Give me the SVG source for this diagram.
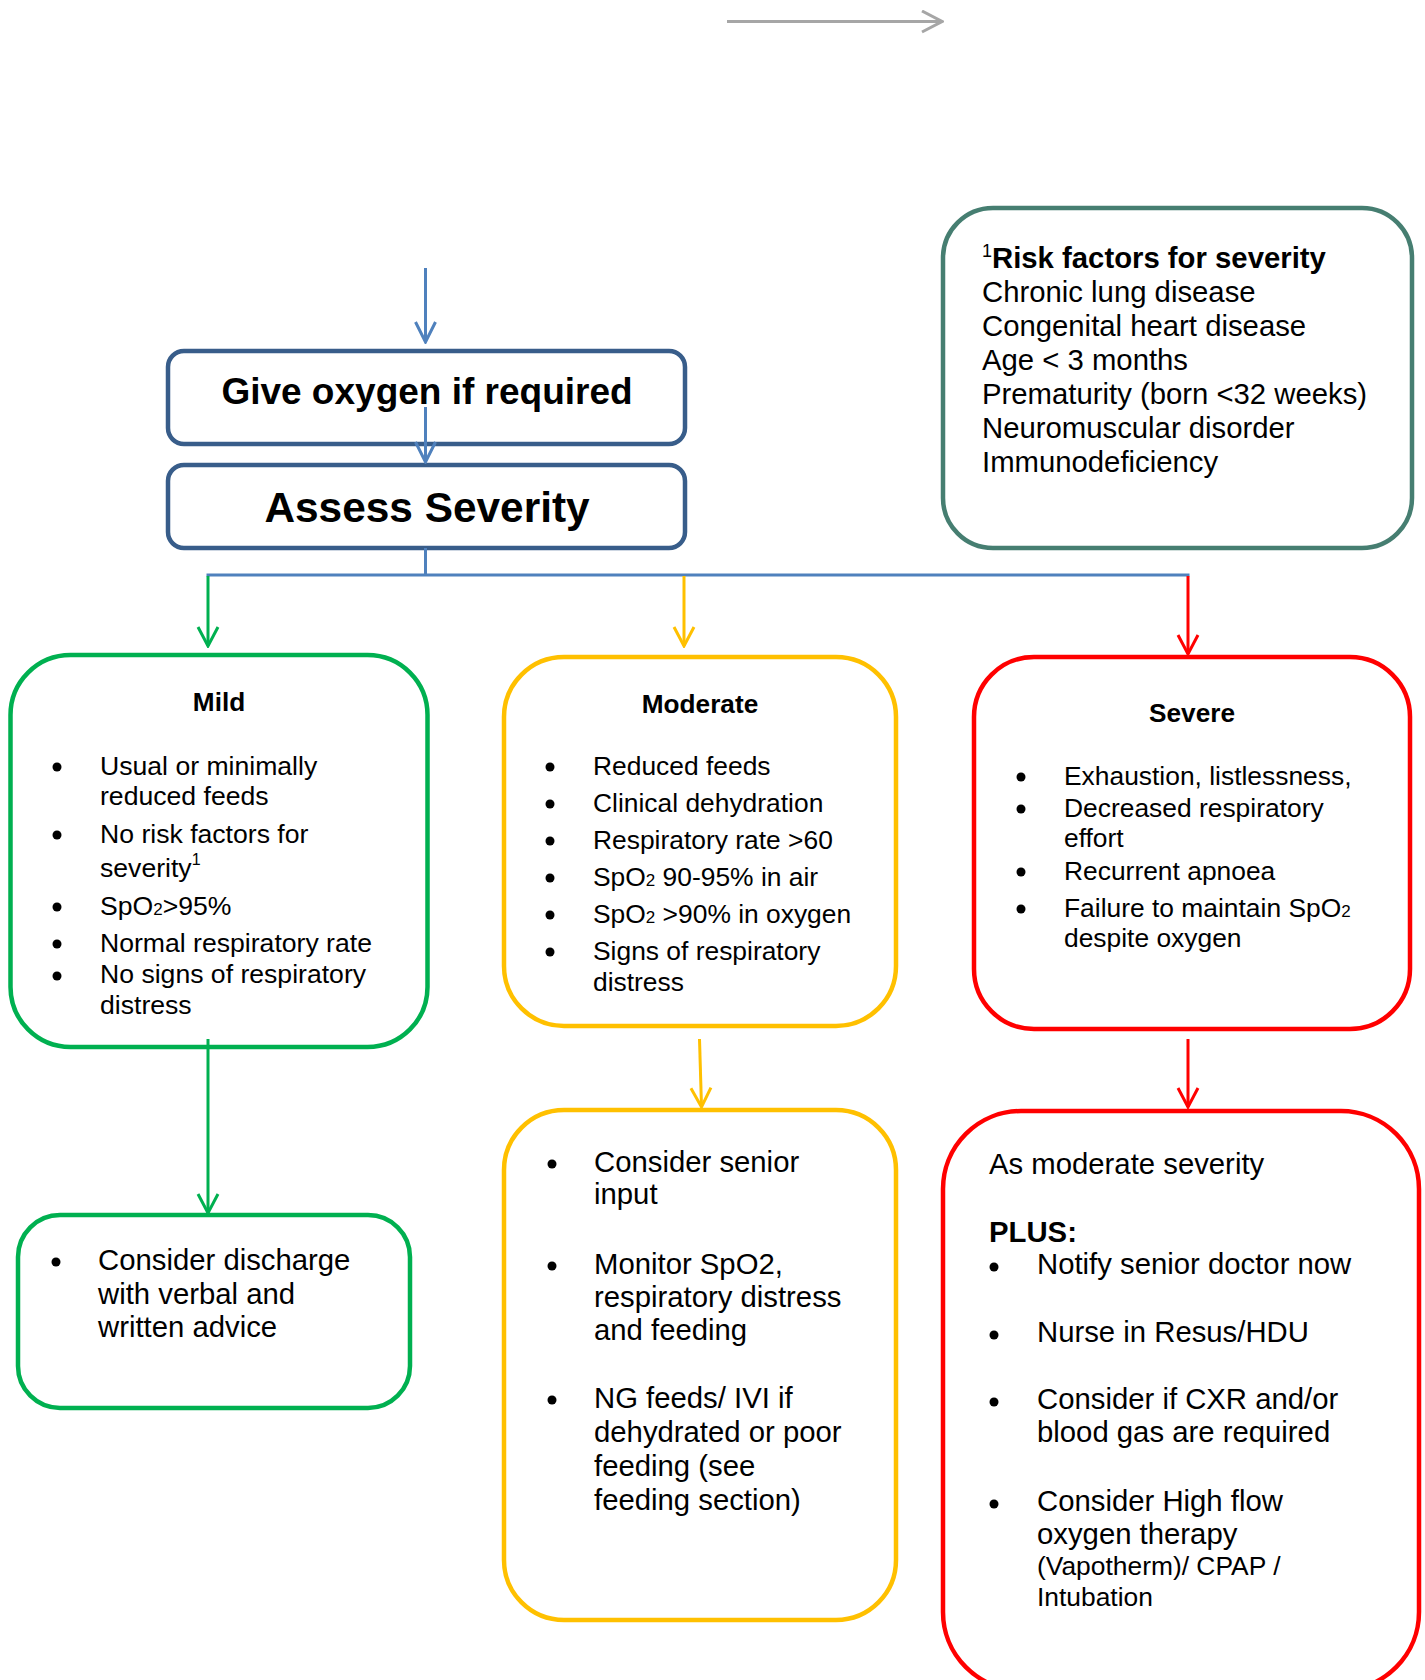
<svg xmlns="http://www.w3.org/2000/svg" width="1425" height="1680" viewBox="0 0 1425 1680">
<style>
  text { font-family: "Liberation Sans", Arial, Helvetica, sans-serif; fill: #000; }
  .s26 { font-size: 26.4px; }
  .s29 { font-size: 29.3px; }
  .ttl { font-size: 26.2px; font-weight: bold; text-anchor: middle; }
  .b { font-weight: bold; }
  .sub { font-size: 17px; }
  .box { fill: #fff; stroke-width: 4.5; }
  .blueBox { stroke: #385D8A; }
  .teal { stroke: #467E71; }
  .green { stroke: #00B050; }
  .yellow { stroke: #FFC000; }
  .red { stroke: #FF0000; }
  .bul { fill: #000; }
  .conn { fill: none; stroke-width: 3; }
</style>
<defs>
  <marker id="aGray" viewBox="-23 -12 25 24" refX="0" refY="0" markerWidth="25" markerHeight="24" markerUnits="userSpaceOnUse" orient="auto">
    <path d="M-20,-10.5 L0,0 L-20,10.5" fill="none" stroke="#A6A6A6" stroke-width="3"/>
  </marker>
  <marker id="aBlue" viewBox="-23 -12 25 24" refX="0" refY="0" markerWidth="25" markerHeight="24" markerUnits="userSpaceOnUse" orient="auto">
    <path d="M-20,-10 L0,0 L-20,10" fill="none" stroke="#4F81BD" stroke-width="3"/>
  </marker>
  <marker id="aGreen" viewBox="-23 -12 25 24" refX="0" refY="0" markerWidth="25" markerHeight="24" markerUnits="userSpaceOnUse" orient="auto">
    <path d="M-19,-10 L0,0 L-19,10" fill="none" stroke="#00B050" stroke-width="3"/>
  </marker>
  <marker id="aYellow" viewBox="-23 -12 25 24" refX="0" refY="0" markerWidth="25" markerHeight="24" markerUnits="userSpaceOnUse" orient="auto">
    <path d="M-19,-10 L0,0 L-19,10" fill="none" stroke="#FFC000" stroke-width="3"/>
  </marker>
  <marker id="aRed" viewBox="-23 -12 25 24" refX="0" refY="0" markerWidth="25" markerHeight="24" markerUnits="userSpaceOnUse" orient="auto">
    <path d="M-19,-10 L0,0 L-19,10" fill="none" stroke="#FF0000" stroke-width="3"/>
  </marker>
</defs>

<rect width="1425" height="1680" fill="#fff"/>

<!-- Nodes -->
<g id="give-oxygen">
  <rect class="box blueBox" x="168" y="351" width="517" height="93" rx="16"/>
  <text x="427" y="404" font-size="37" font-weight="bold" text-anchor="middle">Give oxygen if required</text>
</g>

<g id="assess-severity">
  <rect class="box blueBox" x="168" y="465" width="517" height="83" rx="16"/>
  <text x="427" y="522" font-size="42.4" font-weight="bold" text-anchor="middle">Assess Severity</text>
</g>

<g id="risk-factors">
  <rect class="box teal" x="943" y="208" width="469" height="340" rx="50"/>
  <text class="s29 b" x="982" y="268"><tspan font-size="18" font-weight="normal" dy="-11">1</tspan><tspan dy="11">Risk factors for severity</tspan></text>
  <text class="s29" x="982" y="302">Chronic lung disease</text>
  <text class="s29" x="982" y="336">Congenital heart disease</text>
  <text class="s29" x="982" y="370">Age &lt; 3 months</text>
  <text class="s29" x="982" y="404">Prematurity (born &lt;32 weeks)</text>
  <text class="s29" x="982" y="438">Neuromuscular disorder</text>
  <text class="s29" x="982" y="472">Immunodeficiency</text>
</g>

<g id="mild">
  <rect class="box green" x="10.5" y="655" width="417" height="392" rx="60"/>
  <text class="ttl" x="219" y="711">Mild</text>
  <g font-size="26.6">
    <circle class="bul" cx="57" cy="767" r="4.5"/>
    <text x="100" y="775">Usual or minimally</text>
    <text x="100" y="805">reduced feeds</text>
    <circle class="bul" cx="57" cy="835" r="4.5"/>
    <text x="100" y="843">No risk factors for</text>
    <text x="100" y="877">severity<tspan font-size="16" dy="-12">1</tspan></text>
    <circle class="bul" cx="57" cy="907" r="4.5"/>
    <text x="100" y="915">SpO<tspan class="sub">2</tspan>&gt;95%</text>
    <circle class="bul" cx="57" cy="944" r="4.5"/>
    <text x="100" y="952">Normal respiratory rate</text>
    <circle class="bul" cx="57" cy="976" r="4.5"/>
    <text x="100" y="983">No signs of respiratory</text>
    <text x="100" y="1014">distress</text>
  </g>
</g>

<g id="moderate">
  <rect class="box yellow" x="504" y="657" width="392" height="369" rx="60"/>
  <text class="ttl" x="700" y="713">Moderate</text>
  <g class="s26">
    <circle class="bul" cx="550" cy="767" r="4.5"/>
    <text x="593" y="775">Reduced feeds</text>
    <circle class="bul" cx="550" cy="804" r="4.5"/>
    <text x="593" y="812">Clinical dehydration</text>
    <circle class="bul" cx="550" cy="841" r="4.5"/>
    <text x="593" y="849">Respiratory rate &gt;60</text>
    <circle class="bul" cx="550" cy="878" r="4.5"/>
    <text x="593" y="886">SpO<tspan class="sub">2</tspan> 90-95% in air</text>
    <circle class="bul" cx="550" cy="915" r="4.5"/>
    <text x="593" y="923">SpO<tspan class="sub">2</tspan> &gt;90% in oxygen</text>
    <circle class="bul" cx="550" cy="952" r="4.5"/>
    <text x="593" y="960">Signs of respiratory</text>
    <text x="593" y="991">distress</text>
  </g>
</g>

<g id="severe">
  <rect class="box red" x="974" y="657" width="436" height="372" rx="60"/>
  <text class="ttl" x="1192" y="722">Severe</text>
  <g class="s26">
    <circle class="bul" cx="1021" cy="777" r="4.5"/>
    <text x="1064" y="785">Exhaustion, listlessness,</text>
    <circle class="bul" cx="1021" cy="809" r="4.5"/>
    <text x="1064" y="817">Decreased respiratory</text>
    <text x="1064" y="847">effort</text>
    <circle class="bul" cx="1021" cy="872" r="4.5"/>
    <text x="1064" y="880">Recurrent apnoea</text>
    <circle class="bul" cx="1021" cy="909" r="4.5"/>
    <text x="1064" y="917">Failure to maintain SpO<tspan class="sub">2</tspan></text>
    <text x="1064" y="947">despite oxygen</text>
  </g>
</g>

<g id="mild-action">
  <rect class="box green" x="18" y="1215" width="392" height="193" rx="42"/>
  <g class="s29">
    <circle class="bul" cx="56" cy="1262" r="4.5"/>
    <text x="98" y="1270">Consider discharge</text>
    <text x="98" y="1304">with verbal and</text>
    <text x="98" y="1337">written advice</text>
  </g>
</g>

<g id="moderate-action">
  <rect class="box yellow" x="504" y="1110" width="392" height="510" rx="60"/>
  <g class="s29">
    <circle class="bul" cx="552" cy="1164" r="4.5"/>
    <text x="594" y="1172">Consider senior</text>
    <text x="594" y="1204">input</text>
    <circle class="bul" cx="552" cy="1266" r="4.5"/>
    <text x="594" y="1274">Monitor SpO2,</text>
    <text x="594" y="1307">respiratory distress</text>
    <text x="594" y="1340">and feeding</text>
    <circle class="bul" cx="552" cy="1400" r="4.5"/>
    <text x="594" y="1408">NG feeds/ IVI if</text>
    <text x="594" y="1442">dehydrated or poor</text>
    <text x="594" y="1476">feeding (see</text>
    <text x="594" y="1510">feeding section)</text>
  </g>
</g>

<g id="severe-action">
  <rect class="box red" x="943" y="1111" width="476" height="579" rx="78"/>
  <text class="s29" x="989" y="1174">As moderate severity</text>
  <text class="s29 b" x="989" y="1242">PLUS:</text>
  <g class="s29">
    <circle class="bul" cx="994" cy="1267" r="4.5"/>
    <text x="1037" y="1274">Notify senior doctor now</text>
    <circle class="bul" cx="994" cy="1335" r="4.5"/>
    <text x="1037" y="1342">Nurse in Resus/HDU</text>
    <circle class="bul" cx="994" cy="1402" r="4.5"/>
    <text x="1037" y="1409">Consider if CXR and/or</text>
    <text x="1037" y="1442">blood gas are required</text>
    <circle class="bul" cx="994" cy="1504" r="4.5"/>
    <text x="1037" y="1511">Consider High flow</text>
    <text x="1037" y="1544">oxygen therapy</text>
    <text class="s26" x="1037" y="1575">(Vapotherm)/ CPAP /</text>
    <text class="s26" x="1037" y="1606">Intubation</text>
  </g>
</g>

<!-- Connectors -->
<g id="connectors">
  <line class="conn" x1="727" y1="21.5" x2="942" y2="21.5" stroke="#A6A6A6" marker-end="url(#aGray)"/>
  <line class="conn" x1="425.5" y1="268" x2="425.5" y2="342" stroke="#4F81BD" marker-end="url(#aBlue)"/>
  <line class="conn" x1="425.5" y1="407" x2="425.5" y2="462" stroke="#4F81BD" marker-end="url(#aBlue)"/>
  <line class="conn" x1="425.5" y1="548" x2="425.5" y2="575" stroke="#4F81BD"/>
  <line class="conn" x1="206.5" y1="575" x2="1189.5" y2="575" stroke="#4F81BD"/>
  <line class="conn" x1="208" y1="576" x2="208" y2="646" stroke="#00B050" marker-end="url(#aGreen)"/>
  <line class="conn" x1="684" y1="576" x2="684" y2="646" stroke="#FFC000" marker-end="url(#aYellow)"/>
  <line class="conn" x1="1188" y1="576" x2="1188" y2="654" stroke="#FF0000" marker-end="url(#aRed)"/>
  <line class="conn" x1="208" y1="1039" x2="208" y2="1213" stroke="#00B050" marker-end="url(#aGreen)"/>
  <line class="conn" x1="699.5" y1="1039" x2="701.5" y2="1107" stroke="#FFC000" marker-end="url(#aYellow)"/>
  <line class="conn" x1="1188" y1="1039" x2="1188" y2="1107" stroke="#FF0000" marker-end="url(#aRed)"/>
</g>
</svg>
